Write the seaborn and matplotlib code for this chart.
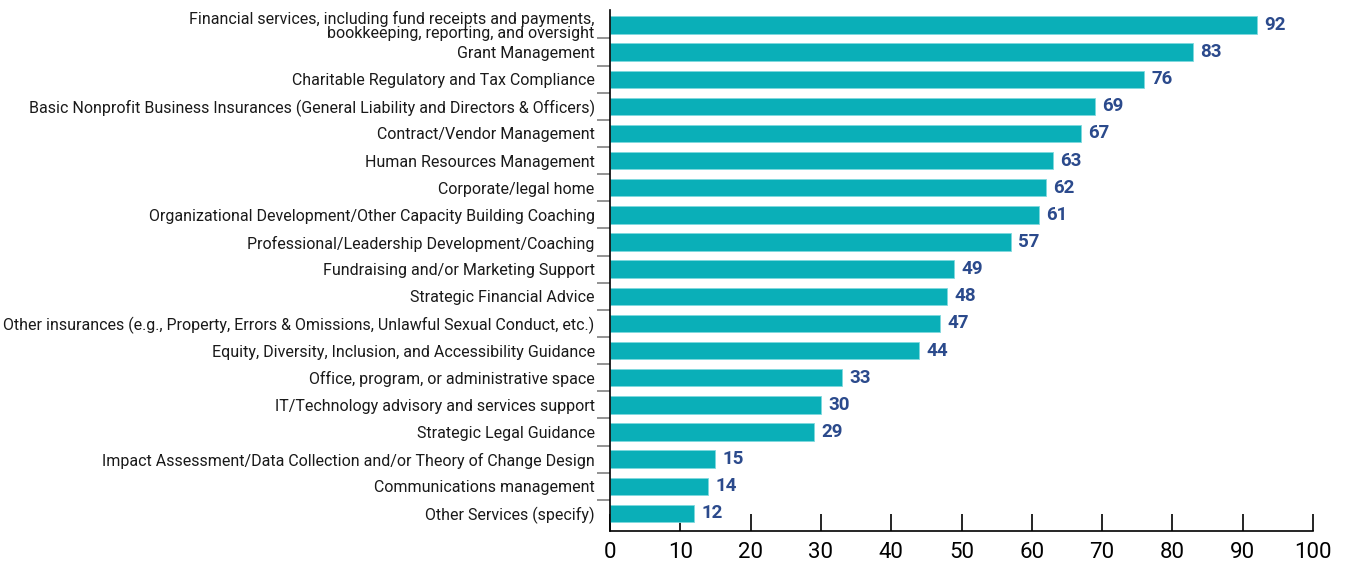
import numpy as np
import pandas as pd
import matplotlib
matplotlib.use('Agg')
import matplotlib.pyplot as plt
import matplotlib.transforms as mtransforms
import seaborn as sns

# 数据
services = [
    'Financial services, including fund receipts and payments,\nbookkeeping, reporting, and oversight',
    'Grant Management',
    'Charitable Regulatory and Tax Compliance',
    'Basic Nonprofit Business Insurances (General Liability and Directors & Officers)',
    'Contract/Vendor Management',
    'Human Resources Management',
    'Corporate/legal home',
    'Organizational Development/Other Capacity Building Coaching',
    'Professional/Leadership Development/Coaching',
    'Fundraising and/or Marketing Support',
    'Strategic Financial Advice',
    'Other insurances (e.g., Property, Errors & Omissions, Unlawful Sexual Conduct, etc.)',
    'Equity, Diversity, Inclusion, and Accessibility Guidance',
    'Office, program, or administrative space',
    'IT/Technology advisory and services support',
    'Strategic Legal Guidance',
    'Impact Assessment/Data Collection and/or Theory of Change Design',
    'Communications management',
    'Other Services (specify)',
]
counts = [92, 83, 76, 69, 67, 63, 62, 61, 57, 49, 48, 47, 44, 33, 30, 29, 15, 14, 12]
x_ticks = list(range(0, 101, 10))

df = pd.DataFrame({'service': services, 'count': counts})

sns.set_style('white')
plt.rcParams['font.family'] = ['Roboto', 'DejaVu Sans']

fig = plt.figure(figsize=(13.47, 5.64), dpi=100)
ax = fig.add_axes([610 / 1347, 33 / 564, 703 / 1347, 521 / 564])

sns.barplot(data=df, x='count', y='service', orient='h', color='#0AAFB8',
            saturation=1, width=0.64, edgecolor='#7FD9DE', linewidth=0.6, ax=ax)

for i, v in enumerate(counts):
    ax.text(v + 1.0, i, str(v), va='center', ha='left', fontsize=13.5,
            fontweight='bold', color='#2B4A8C')

ax.set_xlim(0, 100)
ax.set_ylim(len(services) - 0.35, -0.55)
ax.set_xlabel('')
ax.set_ylabel('')

# 坐标轴样式
for side in ['top', 'right']:
    ax.spines[side].set_visible(False)
for side in ['left', 'bottom']:
    ax.spines[side].set_color('black')
    ax.spines[side].set_linewidth(1.2)

ax.set_xticks(x_ticks)
ax.tick_params(axis='x', which='major', bottom=True, top=False, direction='in',
               length=12, width=1.2, color='black', labelsize=16, pad=8,
               labelcolor='black')
ax.tick_params(axis='y', which='major', left=False, right=False, length=0,
               labelsize=11.5, pad=11, labelcolor='#1a1a1a')
for lab in ax.get_yticklabels():
    lab.set_linespacing(0.95)

# 类别之间的灰色分隔刻度
trans = mtransforms.blended_transform_factory(ax.transAxes, ax.transData)
for b in np.arange(0.5, len(services) - 1, 1):
    ax.plot([-0.019, 0], [b, b], transform=trans, color='#808080', lw=1.2,
            clip_on=False, solid_capstyle='butt')

fig.savefig('out.png', dpi=100)
